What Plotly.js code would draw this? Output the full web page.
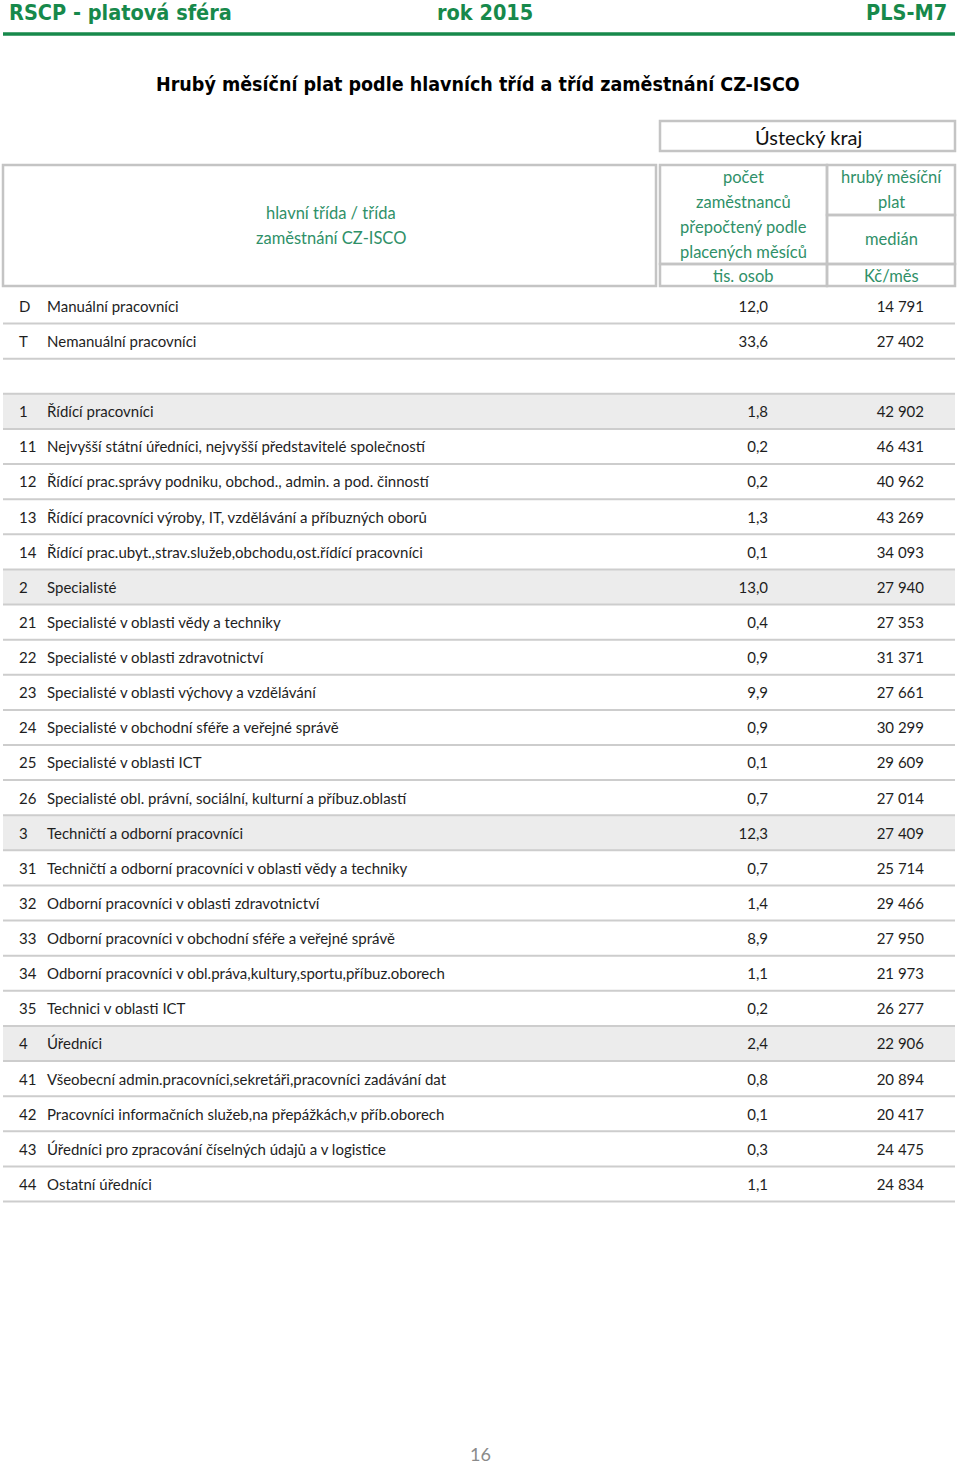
<!DOCTYPE html>
<html>
<head>
<meta charset="utf-8">
<script src="https://cdn.plot.ly/plotly-3.0.1.min.js"></script>
<style>html,body{margin:0;padding:0;background:#fff;}#chart{width:960px;height:1468px;}</style>
</head>
<body>
<div id="chart"></div>
<script>
// ---- data ----
const codes = ['D','T','1','11','12','13','14','2','21','22','23','24','25','26','3','31','32','33','34','35','4','41','42','43','44'];
const names = [
  'Manuální pracovníci',
  'Nemanuální pracovníci',
  'Řídící pracovníci',
  'Nejvyšší státní úředníci, nejvyšší představitelé společností',
  'Řídící prac.správy podniku, obchod., admin. a pod. činností',
  'Řídící pracovníci výroby, IT, vzdělávání a příbuzných oborů',
  'Řídící prac.ubyt.,strav.služeb,obchodu,ost.řídící pracovníci',
  'Specialisté',
  'Specialisté v oblasti vědy a techniky',
  'Specialisté v oblasti zdravotnictví',
  'Specialisté v oblasti výchovy a vzdělávání',
  'Specialisté v obchodní sféře a veřejné správě',
  'Specialisté v oblasti ICT',
  'Specialisté obl. právní, sociální, kulturní a příbuz.oblastí',
  'Techničtí a odborní pracovníci',
  'Techničtí a odborní pracovníci v oblasti vědy a techniky',
  'Odborní pracovníci v oblasti zdravotnictví',
  'Odborní pracovníci v obchodní sféře a veřejné správě',
  'Odborní pracovníci v obl.práva,kultury,sportu,příbuz.oborech',
  'Technici v oblasti ICT',
  'Úředníci',
  'Všeobecní admin.pracovníci,sekretáři,pracovníci zadávání dat',
  'Pracovníci informačních služeb,na přepážkách,v příb.oborech',
  'Úředníci pro zpracování číselných údajů a v logistice',
  'Ostatní úředníci'
];
const counts = [12.0, 33.6, 1.8, 0.2, 0.2, 1.3, 0.1, 13.0, 0.4, 0.9, 9.9, 0.9, 0.1, 0.7, 12.3, 0.7, 1.4, 8.9, 1.1, 0.2, 2.4, 0.8, 0.1, 0.3, 1.1];
const medians = [14791, 27402, 42902, 46431, 40962, 43269, 34093, 27940, 27353, 31371, 27661, 30299, 29609, 27014, 27409, 25714, 29466, 27950, 21973, 26277, 22906, 20894, 20417, 24475, 24834];
const region = 'Ústecký kraj';
const pageTitle = 'Hrubý měsíční plat podle hlavních tříd a tříd zaměstnání CZ-ISCO';

// ---- helpers ----
const fmtCount = v => v.toFixed(1).replace('.', ',');
const fmtMedian = v => { const s = String(Math.round(v)); return s.replace(/\B(?=(\d{3})+(?!\d))/g, ' '); };
const rowPos = codes.map((c, i) => i + (i >= 2 ? 1 : 0)); // blank row after the D/T summary
const textPos = rowPos.map(r => r + 0.06); // small baseline nudge for text
const isMajor = codes.map(c => /^[0-9]$/.test(c));

const GREEN = '#17894b';
const TEAL = '#2f9068';
const GRID = '#cdcdcd';
const BODY = "Lato, 'Open Sans', sans-serif";
const COND = "'Liberation Sans Narrow', 'DejaVu Sans Condensed', 'Liberation Sans', sans-serif";
const P = p => 1 - p / 1468; // paper y from page pixel

const txtFont = {family: BODY, size: 15, color: '#1e1e1e'};
const traces = [
  {x: codes.map(() => 19), y: textPos, text: codes, mode: 'text', type: 'scatter', textposition: 'middle right', textfont: txtFont, hoverinfo: 'skip', showlegend: false},
  {x: codes.map(() => 47), y: textPos, text: names, mode: 'text', type: 'scatter', textposition: 'middle right', textfont: txtFont, hoverinfo: 'skip', showlegend: false},
  {x: codes.map(() => 768), y: textPos, text: counts.map(fmtCount), mode: 'text', type: 'scatter', textposition: 'middle left', textfont: txtFont, hoverinfo: 'skip', showlegend: false},
  {x: codes.map(() => 924), y: textPos, text: medians.map(fmtMedian), mode: 'text', type: 'scatter', textposition: 'middle left', textfont: txtFont, hoverinfo: 'skip', showlegend: false}
];

const shapes = [];
// highlighted major-class rows
rowPos.forEach((r, i) => {
  if (isMajor[i]) shapes.push({type: 'rect', xref: 'x', yref: 'y', x0: 3, x1: 955, y0: r - 0.5, y1: r + 0.5, fillcolor: '#ececec', line: {width: 0}, layer: 'below'});
});
// row separators
rowPos.forEach((r, i) => {
  shapes.push({type: 'line', xref: 'x', yref: 'y', x0: 3, x1: 955, y0: r + 0.5, y1: r + 0.5, line: {color: GRID, width: 2}});
  if (i > 0 && r - rowPos[i - 1] > 1) shapes.push({type: 'line', xref: 'x', yref: 'y', x0: 3, x1: 955, y0: r - 0.5, y1: r - 0.5, line: {color: GRID, width: 2}});
});
// page header rule
shapes.push({type: 'line', xref: 'x', yref: 'paper', x0: 3, x1: 955, y0: P(34), y1: P(34), line: {color: GREEN, width: 3.5}});
// header boxes
const box = (x0, x1, y0, y1) => ({type: 'rect', xref: 'x', yref: 'paper', x0, x1, y0: P(y0), y1: P(y1), line: {color: '#c4c4c4', width: 2.5}, fillcolor: 'rgba(0,0,0,0)'});
shapes.push(box(660, 955, 121, 151));
shapes.push(box(3, 656, 165, 286));
shapes.push(box(660, 827, 165, 264));
shapes.push(box(827, 955, 165, 215));
shapes.push(box(827, 955, 215, 264));
shapes.push(box(660, 827, 264, 286));
shapes.push(box(827, 955, 264, 286));

const ann = (text, x, y, opts) => Object.assign({text, x, y: P(y), xref: 'x', yref: 'paper', showarrow: false, xanchor: 'center', yanchor: 'middle', font: {family: BODY, size: 16.5, color: TEAL}}, opts || {});
const annotations = [
  ann('<b>RSCP - platová sféra</b>', 7, 12, {xanchor: 'left', font: {family: COND, size: 21.5, color: GREEN}}),
  ann('<b>rok 2015</b>', 485, 12, {font: {family: COND, size: 21.5, color: GREEN}}),
  ann('<b>PLS-M7</b>', 949, 12, {xanchor: 'right', font: {family: COND, size: 21.5, color: GREEN}}),
  ann('<b>' + pageTitle + '</b>', 478, 85, {font: {family: COND, size: 19.5, color: '#000'}}),
  ann(region, 808, 137, {font: {family: BODY, size: 20, color: '#111'}}),
  ann('hlavní třída / třída', 331, 213),
  ann('zaměstnání CZ-ISCO', 331, 238),
  ann('počet', 743, 177),
  ann('zaměstnanců', 743, 202),
  ann('přepočtený podle', 743, 227),
  ann('placených měsíců', 743, 252),
  ann('tis. osob', 743, 276),
  ann('hrubý měsíční', 891, 177),
  ann('plat', 891, 202),
  ann('medián', 891, 239),
  ann('Kč/měs', 891, 276),
  ann('16', 480, 1454, {font: {family: BODY, size: 18, color: '#8a8a8a'}})
];

const layout = {
  width: 960, height: 1468,
  margin: {l: 0, r: 0, t: 0, b: 0},
  paper_bgcolor: '#fff', plot_bgcolor: '#fff',
  xaxis: {range: [0, 960], visible: false, fixedrange: true},
  yaxis: {range: [1162 / 35.12, -306 / 35.12], visible: false, fixedrange: true},
  shapes, annotations, showlegend: false
};
Plotly.newPlot('chart', traces, layout, {staticPlot: true});
</script>
</body>
</html>
